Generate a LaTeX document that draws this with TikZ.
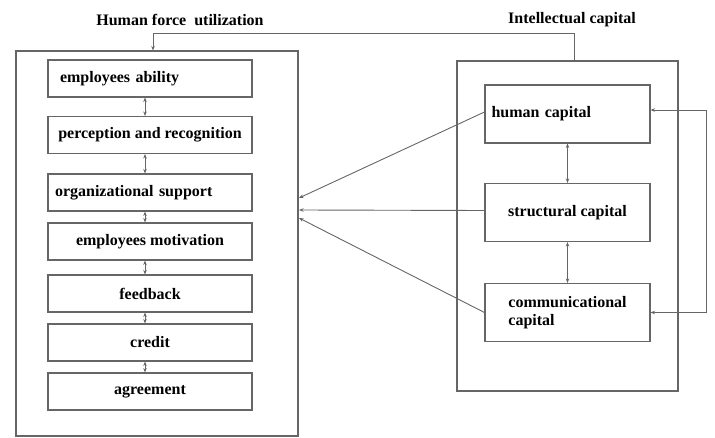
\documentclass[tikz,border=0pt]{standalone}
\usepackage{fontspec}
\setmainfont{Liberation Serif}
\usetikzlibrary{arrows.meta,positioning}

\begin{document}
\begin{tikzpicture}[x=1pt, y=-1pt, >={Stealth[length=4.5pt,width=3.5pt]}, font=\fontsize{16}{18}\selectfont\bfseries,
  line width=0.9pt, draw=black!60,
  frame/.style={draw=black!60, line width=1.1pt, inner sep=0pt},
  item/.style={draw=black!60, line width=1.1pt, minimum width=204pt, minimum height=37pt, inner sep=2pt},
  capbox/.style={draw=black!60, line width=1.1pt, minimum width=165pt, minimum height=58pt, inner sep=2pt},
  link/.style={draw=black!60, line width=0.9pt}]
\useasboundingbox (0,0) rectangle (715,438);
\node (hftitle) at (180,20) {Human force\ \ utilization};
\node (ictitle) at (572,20) {Intellectual capital};
\node[frame, minimum width=282pt, minimum height=385pt] (hf) at (157,243.5) {};
\node[frame, minimum width=221pt, minimum height=330pt] (ic) at (567.5,226) {};
\node[item, text width=180pt, align=left] (ea) at (150,78.5) {employees ability};
\node[item] (pr) at (150,135) {perception and recognition};
\node[item, text width=190pt, align=left] (os) at (150,192.5) {organizational support};
\node[item] (em) at (150,241.5) {employees motivation};
\node[item] (fb) at (150,293.5) {feedback};
\node[item] (cr) at (150,342.5) {credit};
\node[item] (ag) at (150,391.5) {agreement};
\node[capbox, text width=152pt, align=left] (hc) at (567.5,114) {human capital};
\node[capbox] (sc) at (567.5,212.5) {structural capital};
\node[capbox, align=left] (cc) at (567.5,312.5) {communicational\\capital};
\coordinate (in1) at (299,198);
\coordinate (in2) at (299,210);
\coordinate (in3) at (299,218);
\foreach \a/\b in {ea/pr,pr/os,os/em,em/fb,fb/cr,cr/ag}
  \draw[link, <->] ([xshift=-5pt]\a.south) -- ([xshift=-5pt]\b.north);
\draw[link, <->] (hc) -- (sc); \draw[link, <->] (sc) -- (cc);
\draw[link, ->] ([xshift=7pt]ic.north) -- ++(0,-27) -| ([xshift=-4pt]hf.north);
\draw[link, ->] ([yshift=2pt]hc.west) -- (in1);
\draw[link, ->] ([yshift=2pt]sc.west) -- (in2);
\draw[link, ->] (cc.west) -- (in3);
\draw[link, <->] (cc.east) -- ++(56,0) |- ([yshift=4pt]hc.east);
\end{tikzpicture}
\end{document}
